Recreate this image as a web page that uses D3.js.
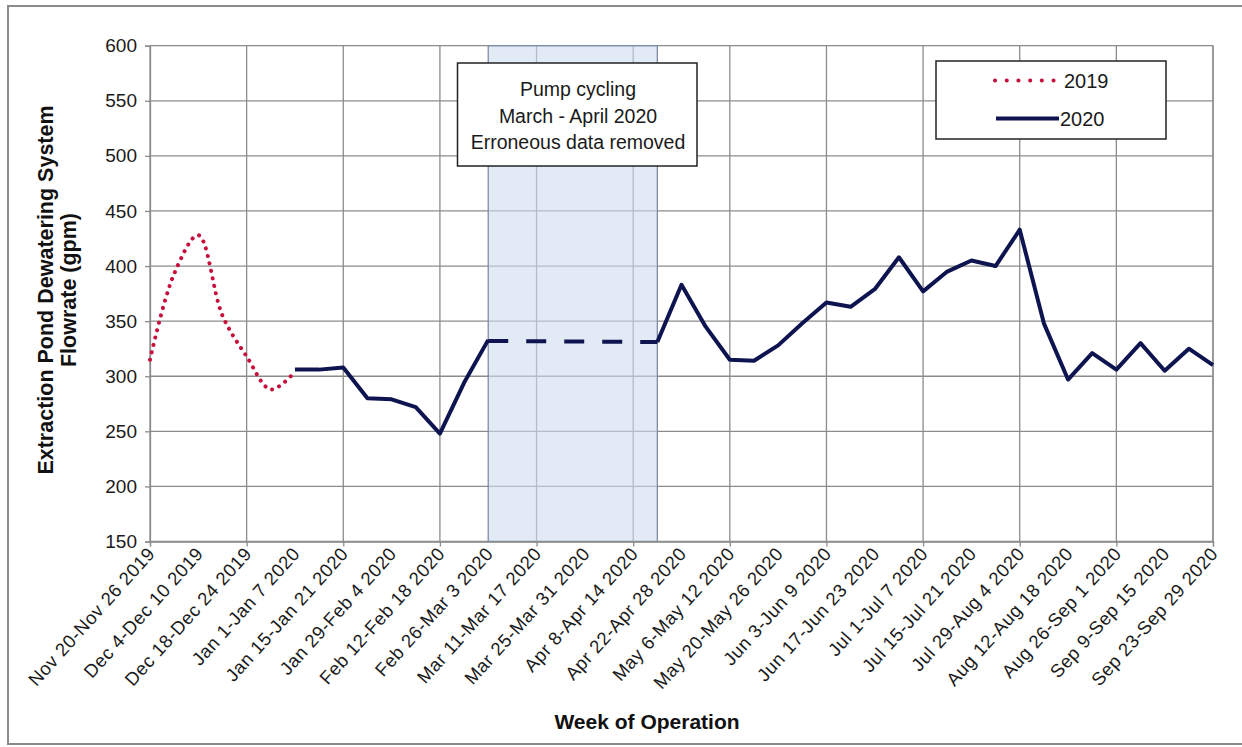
<!DOCTYPE html>
<html>
<head>
<meta charset="utf-8">
<script src="https://cdn.jsdelivr.net/npm/d3@7"></script>
<style>
  body { margin: 0; background: #fff; }
  svg { display: block; font-family: Arial, "Liberation Sans", sans-serif; }
</style>
</head>
<body>
<svg id="chart" width="1242" height="747"></svg>
<script>
// Biweekly tick labels (week index 0, 2, 4, ... 44)
const weekLabels = [
  "Nov 20-Nov 26 2019", "Dec 4-Dec 10 2019", "Dec 18-Dec 24 2019", "Jan 1-Jan 7 2020",
  "Jan 15-Jan 21 2020", "Jan 29-Feb 4 2020", "Feb 12-Feb 18 2020", "Feb 26-Mar 3 2020",
  "Mar 11-Mar 17 2020", "Mar 25-Mar 31 2020", "Apr 8-Apr 14 2020", "Apr 22-Apr 28 2020",
  "May 6-May 12 2020", "May 20-May 26 2020", "Jun 3-Jun 9 2020", "Jun 17-Jun 23 2020",
  "Jul 1-Jul 7 2020", "Jul 15-Jul 21 2020", "Jul 29-Aug 4 2020", "Aug 12-Aug 18 2020",
  "Aug 26-Sep 1 2020", "Sep 9-Sep 15 2020", "Sep 23-Sep 29 2020"
];
const yTicks = [150, 200, 250, 300, 350, 400, 450, 500, 550, 600];

// 2019 series: weeks 0..6
const weeks2019 = [0, 1, 2, 3, 4, 5, 6];
const values2019 = [315, 393, 428, 355, 318, 288, 304];

// 2020 series: weeks 6..14 (before pump cycling)
const weeks2020a = [6, 7, 8, 9, 10, 11, 12, 13, 14];
const values2020a = [306, 306, 308, 280, 279, 272, 248, 294, 333];

// gap bridge (erroneous data removed), drawn dashed
const weeksGap = [14, 21];
const valuesGap = [332, 331];

// 2020 series: weeks 21..44
const weeks2020b = [21, 22, 23, 24, 25, 26, 27, 28, 29, 30, 31, 32, 33, 34, 35, 36, 37, 38, 39, 40, 41, 42, 43, 44];
const values2020b = [331, 383, 345, 315, 314, 328, 348, 367, 363, 379, 408, 377, 395, 405, 400, 433, 348, 297, 321, 306, 330, 305, 325, 310];

// shaded period
const shadeWeeks = [14, 21];

const annotationLines = ["Pump cycling", "March - April 2020", "Erroneous data removed"];
const legendItems = ["2019", "2020"];

(function () {
const svg = d3.select("#chart");
const pL = 150, pR = 1213, pT = 45.7, pB = 541.5;

const x = d3.scaleLinear().domain([0, 44]).range([pL, pR]);
const y = d3.scaleLinear().domain([150, 600]).range([pB, pT]);

// outer border
svg.append("rect").attr("x", 8).attr("y", 6).attr("width", 1250).attr("height", 738)
  .attr("fill", "none").attr("stroke", "#8a8a8a").attr("stroke-width", 2);

// grid lines (horizontal)
svg.append("g").selectAll("line").data(yTicks).join("line")
  .attr("x1", pL).attr("x2", pR)
  .attr("y1", d => y(d)).attr("y2", d => y(d))
  .attr("stroke", "#8c8c8c").attr("stroke-width", 1.3);

// grid lines (vertical, every 4 weeks)
const vGrid = d3.range(0, 45, 4);
svg.append("g").selectAll("line").data(vGrid).join("line")
  .attr("x1", d => x(d)).attr("x2", d => x(d))
  .attr("y1", pT).attr("y2", pB)
  .attr("stroke", "#8c8c8c").attr("stroke-width", 1.3);
svg.append("line").attr("x1", pR).attr("x2", pR).attr("y1", pT).attr("y2", pB)
  .attr("stroke", "#8c8c8c").attr("stroke-width", 1.3);

// shaded region
svg.append("rect")
  .attr("x", x(shadeWeeks[0])).attr("y", pT)
  .attr("width", x(shadeWeeks[1]) - x(shadeWeeks[0]))
  .attr("height", pB - pT)
  .attr("fill", "#cddcee").attr("fill-opacity", 0.6)
  .attr("stroke", "#7d8ca6").attr("stroke-width", 1.3);

// y axis
const yAxis = d3.axisLeft(y).tickValues(yTicks).tickSize(5).tickPadding(8).tickFormat(d3.format("d"));
const gy = svg.append("g").attr("transform", `translate(${pL},0)`).call(yAxis);
gy.select(".domain").attr("stroke", "#8c8c8c").attr("stroke-width", 1.3);
gy.selectAll(".tick line").attr("stroke", "#8c8c8c").attr("stroke-width", 1.3);
gy.selectAll("text").attr("font-size", 19).attr("fill", "#1a1a1a")
  .attr("font-family", "Arial, 'Liberation Sans', sans-serif");

// x axis: ticks every 4 weeks, labels every 2 weeks
const xAxis = d3.axisBottom(x).tickValues(vGrid).tickSize(5).tickFormat("");
const gx = svg.append("g").attr("transform", `translate(0,${pB})`).call(xAxis);
gx.select(".domain").attr("stroke", "#8c8c8c").attr("stroke-width", 1.3);
gx.selectAll(".tick line").attr("stroke", "#8c8c8c").attr("stroke-width", 1.3);

svg.append("g").selectAll("text").data(weekLabels).join("text")
  .attr("transform", (d, i) => `translate(${x(i * 2) + 6},${pB + 13}) rotate(-48)`)
  .attr("text-anchor", "end")
  .attr("font-size", 18.5).attr("letter-spacing", 0.5).attr("fill", "#1a1a1a")
  .text(d => d);

// lines
const line = d3.line().x(d => x(d[0])).y(d => y(d[1]));
const line2019 = d3.line().x(d => x(d[0])).y(d => y(d[1])).curve(d3.curveCatmullRom.alpha(0.5));

svg.append("path")
  .datum(weeks2019.map((w, i) => [w, values2019[i]]))
  .attr("d", line2019)
  .attr("fill", "none").attr("stroke", "#c8103c").attr("stroke-width", 4)
  .attr("stroke-linecap", "round").attr("stroke-dasharray", "0.1 7.5");

svg.append("path")
  .datum(weeks2020a.map((w, i) => [w, values2020a[i]]))
  .attr("d", line)
  .attr("fill", "none").attr("stroke", "#0e1450").attr("stroke-width", 4)
  .attr("stroke-linejoin", "round");

svg.append("path")
  .datum(weeksGap.map((w, i) => [w, valuesGap[i]]))
  .attr("d", line)
  .attr("fill", "none").attr("stroke", "#0e1450").attr("stroke-width", 4)
  .attr("stroke-dasharray", "20 18");

svg.append("path")
  .datum(weeks2020b.map((w, i) => [w, values2020b[i]]))
  .attr("d", line)
  .attr("fill", "none").attr("stroke", "#0e1450").attr("stroke-width", 4)
  .attr("stroke-linejoin", "round");

// annotation box
const ann = svg.append("g");
ann.append("rect").attr("x", 457.5).attr("y", 63).attr("width", 239.5).attr("height", 103)
  .attr("fill", "#fff").attr("stroke", "#222").attr("stroke-width", 1.5);
ann.selectAll("text").data(annotationLines).join("text")
  .attr("x", 578).attr("y", (d, i) => 96 + i * 26.5)
  .attr("text-anchor", "middle").attr("font-size", 19.5).attr("fill", "#1a1a1a")
  .text(d => d);

// legend
const lg = svg.append("g");
lg.append("rect").attr("x", 936).attr("y", 61).attr("width", 230).attr("height", 78)
  .attr("fill", "#fff").attr("stroke", "#222").attr("stroke-width", 1.5);
lg.append("line").attr("x1", 995).attr("x2", 1054).attr("y1", 80.5).attr("y2", 80.5)
  .attr("stroke", "#c8103c").attr("stroke-width", 4).attr("stroke-linecap", "round")
  .attr("stroke-dasharray", "0.1 11.6");
lg.append("line").attr("x1", 996).attr("x2", 1059).attr("y1", 118.5).attr("y2", 118.5)
  .attr("stroke", "#0e1450").attr("stroke-width", 4);
lg.selectAll("text").data(legendItems).join("text")
  .attr("x", d => d === "2019" ? 1064 : 1060).attr("y", (d, i) => 88 + i * 38)
  .attr("font-size", 20).attr("fill", "#1a1a1a")
  .text(d => d);

// axis titles
svg.append("text")
  .attr("transform", "translate(53,290) rotate(-90)")
  .attr("text-anchor", "middle").attr("font-size", 21.5).attr("font-weight", "bold")
  .attr("fill", "#111").text("Extraction Pond Dewatering System");
svg.append("text")
  .attr("transform", "translate(76,290) rotate(-90)")
  .attr("text-anchor", "middle").attr("font-size", 21.5).attr("font-weight", "bold")
  .attr("fill", "#111").text("Flowrate (gpm)");
svg.append("text")
  .attr("x", 647).attr("y", 729)
  .attr("text-anchor", "middle").attr("font-size", 21).attr("font-weight", "bold")
  .attr("fill", "#111").text("Week of Operation");
})();
</script>
</body>
</html>
